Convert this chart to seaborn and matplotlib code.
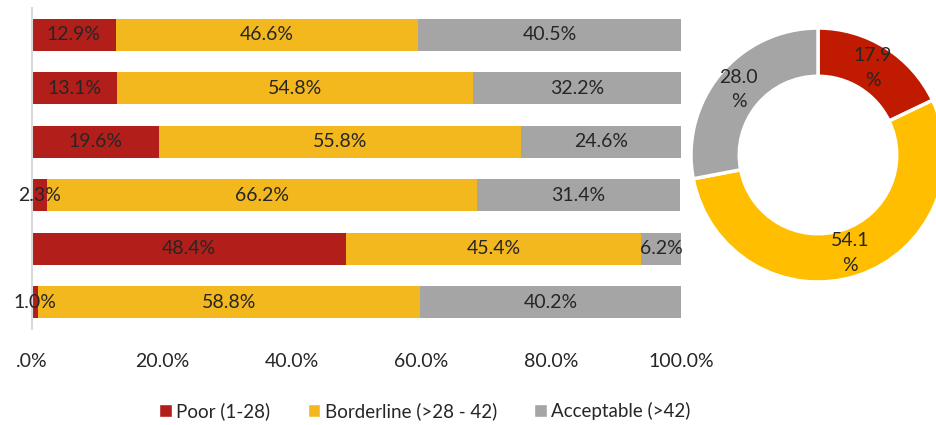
import matplotlib
matplotlib.use("Agg")
from matplotlib import pyplot as plt
from matplotlib.patches import Patch
import seaborn as sns
import pandas as pd
import numpy as np

# stacked bar data, top to bottom
rows = ["1", "2", "3", "4", "5", "6"]
poor = [12.9, 13.1, 19.6, 2.3, 48.4, 1.0]
borderline = [46.6, 54.8, 55.8, 66.2, 45.4, 58.8]
acceptable = [40.5, 32.2, 24.6, 31.4, 6.2, 40.2]

# donut data
donut_labels = ["Poor (1-28)", "Borderline (>28 - 42)", "Acceptable (>42)"]
donut_values = [17.9, 54.1, 28.0]

xticks = [0, 20, 40, 60, 80, 100]
xticklabels = [".0%", "20.0%", "40.0%", "60.0%", "80.0%", "100.0%"]

bar_colors = ["#B21F1A", "#F4B81F", "#A5A5A5"]
donut_colors = ["#C01A00", "#FFBE00", "#A5A5A5"]
txt_color = "#262626"

sns.set_theme(style="white")
plt.rcParams["font.family"] = ["Lato", "DejaVu Sans"]

df = pd.DataFrame({"row": rows, "poor": poor, "borderline": borderline, "acceptable": acceptable})
df["c1"] = df["poor"]
df["c2"] = df["poor"] + df["borderline"]
df["c3"] = df["c2"] + df["acceptable"]

fig = plt.figure(figsize=(9.36, 4.25), dpi=100)
ax = fig.add_axes([32 / 936, 1 - 329 / 425, 649 / 936, 321 / 425])

# draw from longest cumulative to shortest so stacks show
for col, c in zip(["c3", "c2", "c1"], bar_colors[::-1]):
    sns.barplot(data=df, x=col, y="row", orient="h", color=c, width=0.6,
                saturation=1, linewidth=0, ax=ax)

for i, r in df.iterrows():
    starts = [0, r["c1"], r["c2"]]
    vals = [r["poor"], r["borderline"], r["acceptable"]]
    for s, v in zip(starts, vals):
        ax.text(s + v / 2, i, f"{v:.1f}%", ha="center", va="center",
                fontsize=14, color=txt_color)

ax.set_xlim(0, 100)
ax.set_ylim(5.5, -0.5)
ax.set_xticks(xticks)
ax.set_xticklabels(xticklabels, fontsize=14, color=txt_color)
ax.tick_params(axis="x", length=0, pad=17)
ax.set_yticks([])
ax.set_xlabel("")
ax.set_ylabel("")
for s in ["top", "right", "bottom"]:
    ax.spines[s].set_visible(False)
ax.spines["left"].set_color("#D9D9D9")
ax.spines["left"].set_linewidth(1.5)

# donut
ax2 = fig.add_axes([(818 - 127) / 936, (425 - 155 - 127) / 425, 254 / 936, 254 / 425])
wedges, _, autotexts = ax2.pie(
    donut_values, colors=donut_colors, startangle=90, counterclock=False,
    autopct=lambda p: f"{p:.1f}\n%", pctdistance=0.81,
    wedgeprops=dict(width=0.38, edgecolor="white", linewidth=2.5),
    textprops=dict(fontsize=14, color=txt_color, linespacing=1.55),
)
ax2.set_xlim(-1, 1)
ax2.set_ylim(-1, 1)

handles = [Patch(facecolor=c, label=l) for c, l in zip(bar_colors, donut_labels)]
fig.legend(handles=handles, loc="center", bbox_to_anchor=(425 / 936, 14 / 425),
           ncol=3, frameon=False, fontsize=13.5, handlelength=0.65, handleheight=0.65,
           handletextpad=0.25, columnspacing=2.0, labelcolor=txt_color)

fig.savefig("out.png", dpi=100)
